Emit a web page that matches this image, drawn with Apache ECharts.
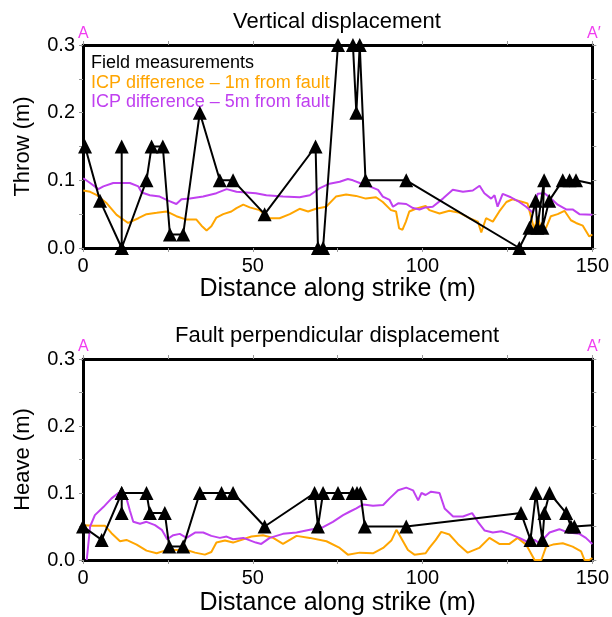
<!DOCTYPE html>
<html>
<head>
<meta charset="utf-8">
<script src="https://cdn.jsdelivr.net/npm/echarts@6/dist/echarts.min.js"></script>
<style>
  html, body { margin: 0; padding: 0; background: #fff; }
  #container { width: 612px; height: 617px; }
</style>
</head>
<body>
<div id="container"></div>
<script>
// distance along strike (m), displacement (m)
const throwField = [
  [0.6, 0.15], [5, 0.07], [11.4, 0], [11.4, 0.15], [11.4, 0], [18.7, 0.1], [20.2, 0.15],
  [23.5, 0.15], [25.6, 0.02], [29.5, 0.02], [34.4, 0.2], [40.3, 0.1], [44.2, 0.1],
  [53.5, 0.05], [68.5, 0.15], [69.2, 0], [70.7, 0], [75.1, 0.3], [79.5, 0.3], [80.5, 0.2],
  [81.5, 0.3], [83.2, 0.1], [95.2, 0.1], [128.5, 0], [131.5, 0.03], [133.3, 0.07],
  [133.8, 0.03], [135.8, 0.1], [135.3, 0.03], [137.3, 0.07], [141.3, 0.1], [143.3, 0.1],
  [145.2, 0.1], [150, 0.095]
];

const throwIcp1m = [
  [0.1, 0.085], [2.1, 0.083], [4.1, 0.078], [7, 0.066], [9.9, 0.049], [13.3, 0.037],
  [16.3, 0.044], [18.7, 0.05], [21.7, 0.052], [24.6, 0.054], [27.5, 0.047], [30.5, 0.042],
  [33.4, 0.042], [34.9, 0.033], [36.4, 0.026], [37.8, 0.032], [39.3, 0.045], [41.3, 0.05],
  [43.7, 0.054], [45.2, 0.059], [47.2, 0.064], [49.1, 0.06], [52, 0.056], [55, 0.044],
  [57.9, 0.044], [60.9, 0.05], [63.8, 0.058], [66.3, 0.054], [68.6, 0.058], [71.6, 0.061],
  [74.5, 0.076], [77.5, 0.079], [80.4, 0.077], [83.3, 0.073], [86.3, 0.075], [88.3, 0.068],
  [90.7, 0.056], [92.2, 0.054], [93.1, 0.029], [94.1, 0.027], [95.1, 0.039], [96.1, 0.054],
  [98, 0.058], [100.9, 0.062], [102, 0.056], [105, 0.051], [107.9, 0.055], [110.9, 0.052],
  [113.8, 0.044], [116.3, 0.039], [117.3, 0.023], [118.7, 0.044], [120.7, 0.039],
  [122.6, 0.054], [124.7, 0.068], [126.5, 0.072], [129.5, 0.068], [130.9, 0.066],
  [131.9, 0.047], [132.9, 0.027], [133.9, 0.047], [134.9, 0.028], [136.4, 0.03],
  [137.8, 0.047], [139.8, 0.05], [141.8, 0.055], [143.7, 0.041], [145.2, 0.037],
  [147.2, 0.033], [149.1, 0.017], [150, 0.02]
];

const throwIcp5m = [
  [0.1, 0.103], [2.1, 0.096], [4.5, 0.087], [6, 0.091], [8.9, 0.096], [13.8, 0.096],
  [16.3, 0.091], [17.3, 0.082], [19.7, 0.078], [22.6, 0.076], [25.1, 0.07], [27.5, 0.065],
  [29, 0.072], [31.5, 0.073], [35.4, 0.076], [39.3, 0.081], [42.3, 0.087], [45.2, 0.083],
  [48.1, 0.082], [50.9, 0.081], [54, 0.078], [58.9, 0.076], [63.8, 0.075], [66.8, 0.078],
  [69.6, 0.088], [72.6, 0.095], [75.6, 0.098], [78, 0.102], [79.5, 0.1], [81.5, 0.096],
  [84.4, 0.091], [86.9, 0.086], [88.3, 0.076], [90.3, 0.071], [91.3, 0.061], [92.8, 0.066],
  [95.2, 0.065], [97.2, 0.059], [99.1, 0.057], [100.9, 0.06], [103, 0.061], [106, 0.073],
  [108.9, 0.086], [111.9, 0.083], [114.8, 0.085], [116.8, 0.092], [118.2, 0.081],
  [120.2, 0.073], [121.2, 0.078], [122.1, 0.061], [123.6, 0.08], [126, 0.075],
  [128.5, 0.068], [130.5, 0.061], [132.5, 0.052], [133.9, 0.08], [135.9, 0.081],
  [137.9, 0.073], [139.8, 0.064], [142.3, 0.057], [144.2, 0.057], [146.2, 0.05],
  [150, 0.049]
];

const heaveField = [
  [0, 0.05], [5.5, 0.03], [11.4, 0.1], [11.4, 0.07], [11.4, 0.1], [18.7, 0.1], [19.7, 0.07],
  [24.1, 0.07], [25.4, 0.02], [29.5, 0.02], [34.4, 0.1], [40.8, 0.1], [44.2, 0.1],
  [53.5, 0.05], [68.2, 0.1], [69.2, 0.05], [70.7, 0.1], [75.1, 0.1], [79.4, 0.1],
  [80.7, 0.1], [81.7, 0.1], [83, 0.05], [95.2, 0.05], [129, 0.07], [131.8, 0.03],
  [133.4, 0.1], [135.3, 0.03], [135.9, 0.07], [137.4, 0.1], [142.3, 0.07], [143.7, 0.05],
  [144.7, 0.05], [150, 0.052]
];

const heaveIcp1m = [
  [0.1, 0.052], [3, 0.051], [6.5, 0.051], [8.4, 0.04], [10.9, 0.028], [12.8, 0.03],
  [15.8, 0.023], [18.7, 0.014], [21.7, 0.01], [24.1, 0.014], [26.6, 0.015], [30.5, 0.015],
  [33, 0.011], [35.9, 0.008], [37.8, 0.012], [39.3, 0.026], [41.8, 0.029], [44.2, 0.026],
  [47.2, 0.031], [49.6, 0.035], [53, 0.037], [56, 0.033], [58.9, 0.024], [62.9, 0.036],
  [66.8, 0.033], [71.7, 0.028], [75.6, 0.018], [78, 0.008], [81.5, 0.011], [85.4, 0.01],
  [88.4, 0.018], [90.8, 0.029], [92.3, 0.045], [93.7, 0.033], [95.7, 0.015], [97.6, 0.008],
  [100.9, 0.01], [102, 0.018], [103.9, 0.03], [105.5, 0.042], [107.9, 0.038],
  [110.4, 0.024], [113.3, 0.011], [116.7, 0.018], [119.7, 0.033], [122.6, 0.024],
  [125.6, 0.024], [128, 0.033], [130.5, 0.023], [133, 0], [135, 0], [136.4, 0.02],
  [138.4, 0.023], [141.3, 0.025], [144.2, 0.02], [146.7, 0.013], [147.7, 0], [149.1, 0],
  [150, 0.003]
];

const heaveIcp5m = [
  [1.1, 0], [2.1, 0.05], [3.5, 0.067], [6, 0.079], [8.4, 0.092], [10.4, 0.1], [11.4, 0.101],
  [12.8, 0.092], [13.8, 0.074], [14.8, 0.057], [16.8, 0.054], [18.7, 0.057], [21.2, 0.052],
  [23.2, 0.045], [24.8, 0.031], [26.6, 0.037], [28.5, 0.039], [30.5, 0.033], [33, 0.041],
  [35.4, 0.041], [37.8, 0.036], [40.3, 0.033], [42.3, 0.035], [44.2, 0.031], [47.2, 0.033],
  [50.9, 0.026], [52.5, 0.024], [55, 0.033], [58.9, 0.039], [62.9, 0.041], [66.8, 0.045],
  [70.7, 0.049], [73.6, 0.057], [76.6, 0.067], [78.5, 0.072], [80.5, 0.077], [82.5, 0.083],
  [85.4, 0.081], [88.4, 0.082], [90.3, 0.092], [92.8, 0.104], [95.2, 0.108], [97.2, 0.104],
  [98.7, 0.089], [99.7, 0.1], [100.9, 0.097], [102.5, 0.102], [105, 0.1], [106.5, 0.077],
  [109, 0.065], [111.9, 0.065], [114.6, 0.07], [116.3, 0.057], [118.3, 0.044],
  [120.7, 0.041], [123.2, 0.043], [125.6, 0.039], [128.5, 0.033], [130.5, 0.028],
  [133, 0.03], [134.4, 0.025], [137.4, 0.041], [140.3, 0.046], [142.8, 0.041],
  [146.2, 0.039], [148.1, 0.033], [150, 0.024]
];

const legendNames = ['Field measurements', 'ICP difference \u2013 1m from fault', 'ICP difference \u2013 5m from fault'];
const panelTitles = ['Vertical displacement', 'Fault perpendicular displacement'];
const yNames = ['Throw (m)', 'Heave (m)'];
const xName = 'Distance along strike (m)';

const FONT = 'Liberation Sans';
const ORANGE = '#ffa500';
const PURPLE = '#c040f0';
const MAGENTA = '#f03cf0';

const chart = echarts.init(document.getElementById('container'));

const grids = [
  { left: 83, right: 19, top: 45, height: 203 },
  { left: 83, right: 19, top: 359, height: 203 }
];

const tickStyle = {
  axisTick: { show: true, inside: false, length: 4, lineStyle: { color: '#999', width: 1 } },
  minorTick: { show: true, splitNumber: 2, length: 4, lineStyle: { color: '#999', width: 1 } },
  splitLine: { show: false },
  minorSplitLine: { show: false }
};

const frameLine = { show: true, onZero: false, lineStyle: { color: '#000', width: 3 } };

function xAxes(i) {
  return [{
    type: 'value', gridIndex: i, min: 0, max: 150, interval: 50,
    name: xName, nameLocation: 'middle', nameGap: i === 0 ? 29 : 31,
    nameTextStyle: { fontSize: 25, color: '#000', fontFamily: FONT },
    axisLine: frameLine,
    axisLabel: { fontSize: 20, color: '#000', fontFamily: FONT, margin: 8 },
    ...tickStyle
  }, {
    type: 'value', gridIndex: i, position: 'top', min: 0, max: 150, interval: 50,
    axisLine: frameLine,
    axisLabel: { show: false },
    ...tickStyle
  }];
}

function yAxes(i) {
  return [{
    type: 'value', gridIndex: i, min: 0, max: 0.3, interval: 0.1,
    name: yNames[i], nameLocation: 'middle', nameGap: 49,
    nameTextStyle: { fontSize: 22, color: '#000', fontFamily: FONT },
    axisLine: frameLine,
    axisLabel: { fontSize: 20, color: '#000', fontFamily: FONT, margin: 8,
      formatter: v => v.toFixed(1) },
    ...tickStyle
  }, {
    type: 'value', gridIndex: i, position: 'right', min: 0, max: 0.3, interval: 0.1,
    axisLine: frameLine,
    axisLabel: { show: false },
    ...tickStyle
  }];
}

function curve(data, color, i) {
  return {
    type: 'line', xAxisIndex: i * 2, yAxisIndex: i * 2, data: data,
    showSymbol: false, symbol: 'none', clip: true,
    lineStyle: { color: color, width: 2 }, z: 2
  };
}

function field(data, i) {
  // the last point closes the line at the plot edge without a marker
  const pts = data.map((d, k) => k === data.length - 1 ? { value: d, symbol: 'none' } : d);
  return {
    type: 'line', xAxisIndex: i * 2, yAxisIndex: i * 2, data: pts,
    symbol: 'triangle', symbolSize: 14, showAllSymbol: true, clip: false,
    itemStyle: { color: '#000' },
    lineStyle: { color: '#000', width: 2 }, z: 3
  };
}

function label(text, x, y, color, size) {
  return {
    type: 'text', x: x, y: y,
    style: { text: text, fill: color, font: size + 'px "' + FONT + '"' }
  };
}

const titleStyle = { fontSize: 22, fontWeight: 'normal', color: '#000', fontFamily: FONT };

const option = {
  animation: false,
  backgroundColor: '#fff',
  textStyle: { fontFamily: FONT },
  title: [
    { text: panelTitles[0], left: 332, top: 6, textAlign: 'center', textStyle: titleStyle },
    { text: panelTitles[1], left: 332, top: 320, textAlign: 'center', textStyle: titleStyle }
  ],
  grid: grids,
  xAxis: [...xAxes(0), ...xAxes(1)],
  yAxis: [...yAxes(0), ...yAxes(1)],
  graphic: [
    label(legendNames[0], 91, 54, '#000', 18),
    label(legendNames[1], 91, 74, ORANGE, 18),
    label(legendNames[2], 91, 93, PURPLE, 18),
    label('A', 78, 26, MAGENTA, 16),
    label('A\u2032', 587, 26, MAGENTA, 16),
    label('A', 78, 339, MAGENTA, 16),
    label('A\u2032', 587, 339, MAGENTA, 16)
  ],
  series: [
    curve(throwIcp1m, ORANGE, 0),
    curve(throwIcp5m, PURPLE, 0),
    field(throwField, 0),
    curve(heaveIcp1m, ORANGE, 1),
    curve(heaveIcp5m, PURPLE, 1),
    field(heaveField, 1)
  ]
};

chart.setOption(option);
</script>
</body>
</html>
